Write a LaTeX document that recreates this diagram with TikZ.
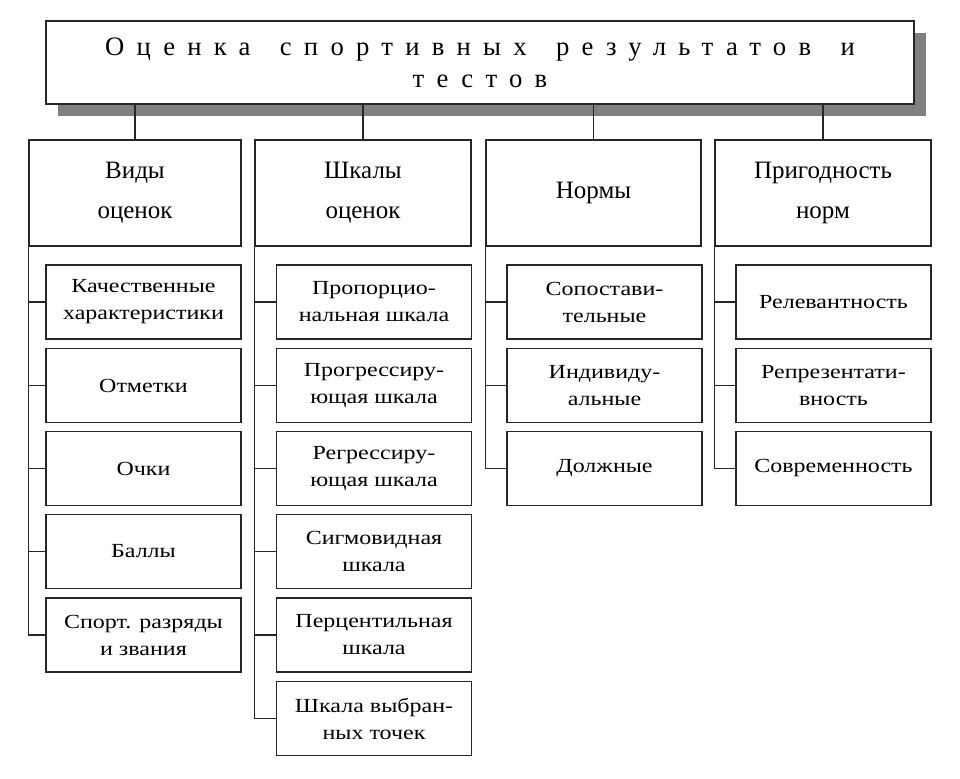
\documentclass[tikz,border=0pt]{standalone}
\usepackage{fontspec}
\setmainfont{Liberation Serif}
\newcommand{\wgap}{\hspace{22pt}}
\begin{document}
\begin{tikzpicture}[x=0.75pt,y=-0.75pt,
  box/.style={draw=black!85, line width=0.9pt, fill=white, inner sep=0pt, align=center, anchor=center},
  titlebox/.style={box, minimum width=651pt, minimum height=62.25pt, font=\fontsize{20}{24}\selectfont\addfontfeature{LetterSpace=46}},
  lvl/.style={box, minimum height=79.5pt, font=\fontsize{18.75}{30}\selectfont},
  leaf/.style={box, minimum width=146.25pt, minimum height=55.5pt, font=\fontsize{15}{20.25}\selectfont\addfontfeature{FakeStretch=1.2}},
  link/.style={draw=black!85, line width=0.9pt}]
\useasboundingbox (0,0) rectangle (960,778);
% title with shadow
\fill[black!50] (58,33) rectangle (926,116);
\node[titlebox] (top) at (480,62.5) {Оценка\wgap спортивных\wgap результатов\wgap и\\тестов};
% level 1
\node[lvl, minimum width=159pt] (vid) at (135,193) {Виды\\оценок};
\node[lvl, minimum width=162pt] (shk) at (363,193) {Шкалы\\оценок};
\node[lvl, minimum width=161.25pt] (nor) at (593.5,193) {Нормы};
\node[lvl, minimum width=162pt] (pri) at (823,193) {Пригодность\\норм};
\foreach \n in {vid,shk,nor,pri} \draw[link] (top.south -| \n.north) -- (\n.north);
% column 1
\node[leaf] (v1) at (143.5,302) {Качественные\\характеристики};
\node[leaf] (v2) at (143.5,385.5) {Отметки};
\node[leaf] (v3) at (143.5,468.5) {Очки};
\node[leaf] (v4) at (143.5,551.5) {Баллы};
\node[leaf] (v5) at (143.5,635) {Спорт. разряды\\и звания};
% column 2
\node[leaf] (s1) at (374,302) {Пропорцио-\\нальная шкала};
\node[leaf] (s2) at (374,385.5) {Прогрессиру-\\ющая шкала};
\node[leaf] (s3) at (374,468.5) {Регрессиру-\\ющая шкала};
\node[leaf] (s4) at (374,551.5) {Сигмовидная\\шкала};
\node[leaf] (s5) at (374,635) {Перцентильная\\шкала};
\node[leaf] (s6) at (374,718.5) {Шкала выбран-\\ных точек};
% column 3
\node[leaf] (n1) at (604.5,302) {Сопостави-\\тельные};
\node[leaf] (n2) at (604.5,385.5) {Индивиду-\\альные};
\node[leaf] (n3) at (604.5,468.5) {Должные};
% column 4
\node[leaf] (p1) at (833.5,302) {Релевантность};
\node[leaf] (p2) at (833.5,385.5) {Репрезентати-\\вность};
\node[leaf] (p3) at (833.5,468.5) {Современность};
% tree links
\foreach \c in {v1,v2,v3,v4,v5} \draw[link] (vid.south west) |- (\c.west);
\foreach \c in {s1,s2,s3,s4,s5,s6} \draw[link] (shk.south west) |- (\c.west);
\foreach \c in {n1,n2,n3} \draw[link] (nor.south west) |- (\c.west);
\foreach \c in {p1,p2,p3} \draw[link] (pri.south west) |- (\c.west);
\end{tikzpicture}
\end{document}
